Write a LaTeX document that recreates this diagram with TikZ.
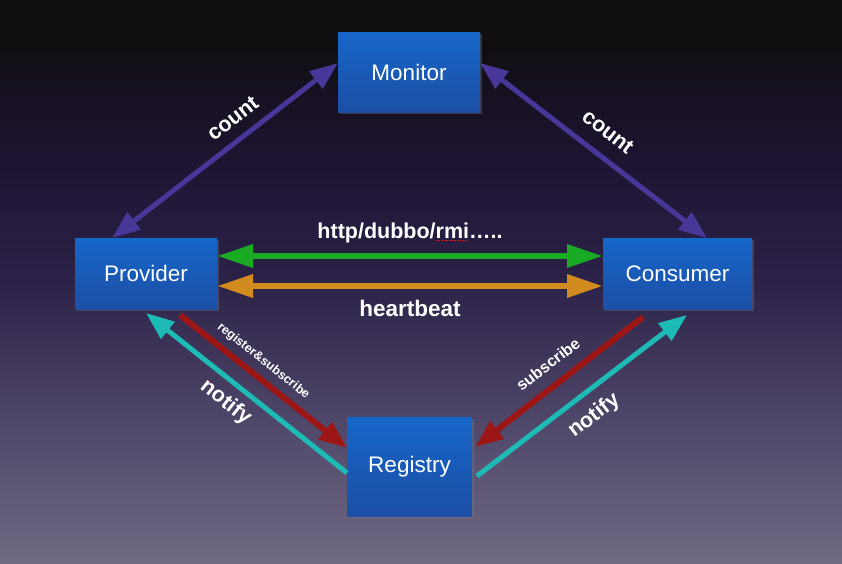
\documentclass[tikz,border=0pt]{standalone}
\usepackage{fontspec}
\setmainfont{Liberation Sans}
\usetikzlibrary{arrows.meta,shadows,calc}
\definecolor{bgtop}{RGB}{16,14,17}
\definecolor{bgdark}{RGB}{22,16,32}
\definecolor{bgmid2}{RGB}{30,21,52}
\definecolor{bgmid}{RGB}{44,34,72}
\definecolor{bgmid1}{RGB}{78,70,104}
\definecolor{bgbot}{RGB}{112,106,132}
\definecolor{boxtop}{RGB}{22,102,201}
\definecolor{boxbot}{RGB}{28,79,165}
\definecolor{purp}{RGB}{72,54,152}
\definecolor{grn}{RGB}{26,170,36}
\definecolor{orng}{RGB}{209,139,31}
\definecolor{rd}{RGB}{156,22,22}
\definecolor{tl}{RGB}{30,186,181}
\definecolor{spellred}{RGB}{200,30,30}
\newcommand\spellmark[1]{\setbox0\hbox{#1}\rlap{\raisebox{-3pt}{\textcolor{spellred}{\leaders\hbox to 1.6pt{\hss\rule{0.9pt}{0.9pt}\hss}\hskip\wd0}}}\box0}
\pgfdeclareverticalshading{bgshade}{100bp}{color(0bp)=(bgbot); color(25bp)=(bgbot); color(38bp)=(bgmid1); color(50bp)=(bgmid); color(60bp)=(bgmid2); color(67bp)=(bgdark); color(71bp)=(bgtop); color(75bp)=(bgtop); color(100bp)=(bgtop)}
\tikzset{
  box/.style={rectangle, inner sep=0pt, outer sep=0pt, top color=boxtop, bottom color=boxbot,
    text=white, font=\fontsize{22.5}{26}\selectfont,
    drop shadow={opacity=0.35, shadow xshift=2pt, shadow yshift=-2pt}},
  bigtip/.tip={Triangle[length=28pt,width=21pt]},
  longtip/.tip={Triangle[length=36pt,width=22pt]},
  purparr/.style={line width=5pt, draw=purp, arrows={bigtip-bigtip}},
  grnarr/.style={line width=6.5pt, draw=grn, arrows={longtip-longtip}},
  orarr/.style={line width=6.5pt, draw=orng, arrows={longtip-longtip}},
  rdarr/.style={line width=6pt, draw=rd},
  tlarr/.style={line width=5pt, draw=tl},
  lbl/.style={text=white, inner sep=0pt, font=\bfseries\fontsize{21.5}{25}\selectfont},
  smalllbl/.style={text=white, inner sep=0pt, font=\bfseries\fontsize{12.5}{15}\selectfont},
  midlbl/.style={text=white, inner sep=0pt, font=\bfseries\fontsize{16}{19}\selectfont}
}
\begin{document}
\begin{tikzpicture}[x=1pt,y=-1pt]
\fill[shading=bgshade] (0,0) rectangle (842,563);
\useasboundingbox (0,0) rectangle (842,563);

\node[box, minimum width=142pt, minimum height=80pt] (mon) at (409,72) {Monitor};
\node[box, minimum width=142pt, minimum height=71pt] (prov) at (146,273.5) {Provider};
\node[box, minimum width=149pt, minimum height=71pt] (cons) at (677.5,273.5) {Consumer};
\node[box, minimum width=125pt, minimum height=99pt] (reg) at (409.5,466.5) {Registry};

\draw[purparr] ([xshift=-34pt]prov.north) -- ([yshift=9pt]mon.west)
  node[lbl, pos=0.59, sloped, above=11pt] {count};
\draw[purparr] ([yshift=9pt]mon.east) -- ([xshift=29.5pt]cons.north)
  node[lbl, pos=0.5, sloped, above=14pt] {count};

\draw[grnarr] ([yshift=17.5pt]prov.east) -- ([yshift=17.5pt]cons.west)
  node[lbl, midway, anchor=base, yshift=18pt] {http/dubbo/\spellmark{rmi}…..};
\draw[orarr] ([yshift=-12.5pt]prov.east) -- ([yshift=-12.5pt]cons.west)
  node[lbl, midway, anchor=base, yshift=-30pt, font=\bfseries\fontsize{22.5}{26}\selectfont] {heartbeat};

\draw[rdarr, arrows={-bigtip}] ([xshift=34pt,yshift=-6pt]prov.south) -- ([yshift=18.5pt]reg.west)
  node[smalllbl, pos=0.44, sloped, above=7pt] {register\&subscribe};
\draw[tlarr, arrows={bigtip-}] ([yshift=-4pt]prov.south) -- ([yshift=-6.5pt]reg.west)
  node[lbl, pos=0.46, sloped, below=8pt] {notify};

\draw[rdarr, arrows={bigtip-}] ([xshift=3pt,yshift=19.5pt]reg.east) -- ([xshift=-34.5pt,yshift=-8pt]cons.south)
  node[midlbl, pos=0.51, sloped, above=12pt] {subscribe};
\draw[tlarr, arrows={-bigtip}] ([xshift=5pt,yshift=-9.5pt]reg.east) -- ([xshift=9.5pt,yshift=-6pt]cons.south)
  node[lbl, pos=0.49, sloped, below=11pt] {notify};
\end{tikzpicture}
\end{document}
